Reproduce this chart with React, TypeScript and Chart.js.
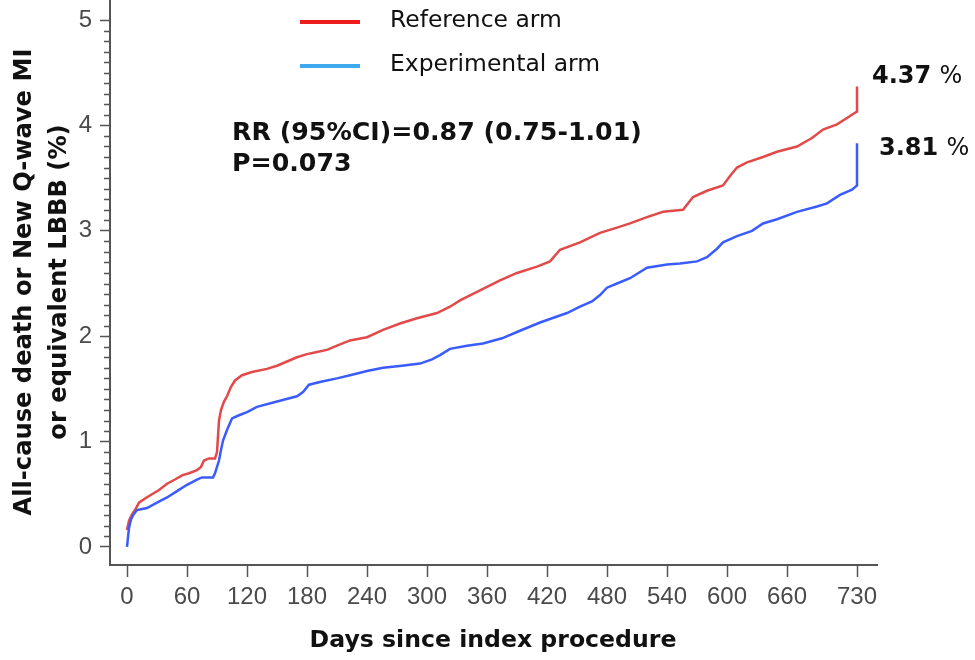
import React, { useEffect, useRef } from "react";
import { Chart, registerables } from "chart.js";

Chart.register(...registerables);

// ---------- data ----------
const refDays = [0, 2, 5, 8, 12, 18, 25, 32, 40, 48, 55, 62, 70, 74, 77, 82, 88, 90, 91, 92, 94, 97, 100, 104, 108, 115, 125, 140, 150, 160, 170, 180, 190, 200, 210, 223, 240, 256, 273, 290, 310, 323, 333, 350, 373, 390, 410, 423, 433, 453, 473, 490, 503, 520, 536, 556, 566, 580, 596, 603, 610, 620, 636, 650, 670, 685, 696, 710, 720, 728, 730, 730];
const refValues = [0.16, 0.25, 0.31, 0.35, 0.42, 0.46, 0.5, 0.54, 0.6, 0.64, 0.68, 0.7, 0.73, 0.76, 0.82, 0.84, 0.84, 0.9, 1.05, 1.2, 1.3, 1.38, 1.43, 1.52, 1.58, 1.63, 1.66, 1.69, 1.72, 1.76, 1.8, 1.83, 1.85, 1.87, 1.91, 1.96, 1.99, 2.06, 2.12, 2.17, 2.22, 2.28, 2.34, 2.42, 2.53, 2.6, 2.66, 2.71, 2.82, 2.89, 2.98, 3.03, 3.07, 3.13, 3.18, 3.2, 3.32, 3.38, 3.43, 3.52, 3.6, 3.65, 3.7, 3.75, 3.8, 3.88, 3.96, 4.01, 4.07, 4.12, 4.13, 4.37];

const expDays = [0, 2, 4, 6, 10, 15, 20, 30, 40, 50, 60, 70, 75, 86, 88, 90, 92, 94, 96, 100, 105, 112, 120, 130, 150, 170, 176, 182, 195, 210, 223, 240, 256, 275, 293, 305, 313, 323, 340, 356, 375, 390, 413, 440, 453, 465, 473, 480, 490, 503, 520, 540, 553, 570, 580, 590, 596, 610, 625, 636, 650, 670, 690, 700, 713, 725, 730, 730];
const expValues = [0, 0.18, 0.26, 0.3, 0.35, 0.36, 0.37, 0.42, 0.47, 0.53, 0.59, 0.64, 0.66, 0.66, 0.7, 0.76, 0.82, 0.92, 1.01, 1.11, 1.22, 1.25, 1.28, 1.33, 1.38, 1.43, 1.47, 1.54, 1.57, 1.6, 1.63, 1.67, 1.7, 1.72, 1.74, 1.78, 1.82, 1.88, 1.91, 1.93, 1.98, 2.04, 2.13, 2.22, 2.28, 2.33, 2.39, 2.46, 2.5, 2.55, 2.65, 2.68, 2.69, 2.71, 2.75, 2.83, 2.89, 2.95, 3.0, 3.07, 3.11, 3.18, 3.23, 3.26, 3.34, 3.39, 3.43, 3.83];

const xTicks = [0, 60, 120, 180, 240, 300, 360, 420, 480, 540, 600, 660, 730];
const yTicks = [0, 1, 2, 3, 4, 5];
const seriesNames = ["Reference arm", "Experimental arm"];
const statLines = ["RR (95%CI)=0.87 (0.75-1.01)", "P=0.073"];
const endLabels = ["4.37", "3.81"];
const xTitle = "Days since index procedure";
const yTitleLines = ["All-cause death or New Q-wave MI", "or equivalent LBBB (%)"];

const AXIS = "#555555";
const TXT = "#111111";
const FAM = "'DejaVu Sans', Verdana, sans-serif";

function fitSize(ctx: CanvasRenderingContext2D, text: string, weight: string, width: number) {
  ctx.font = `${weight} 100px ${FAM}`;
  const w = ctx.measureText(text).width;
  return (100 * width) / w;
}

const annotations = {
  id: "annotations",
  afterDraw(chart: any) {
    const ctx: CanvasRenderingContext2D = chart.ctx;
    const ys = chart.scales.y;
    ctx.save();
    // minor y ticks
    ctx.strokeStyle = AXIS;
    ctx.lineWidth = 1.5;
    for (let i = 0; i <= 50; i++) {
      if (i % 10 === 0) continue;
      const py = Math.round(ys.getPixelForValue(i / 10)) + 0.5;
      ctx.beginPath();
      ctx.moveTo(chart.chartArea.left - 6, py);
      ctx.lineTo(chart.chartArea.left, py);
      ctx.stroke();
    }

    ctx.fillStyle = TXT;
    ctx.textBaseline = "middle";
    ctx.textAlign = "left";

    // legend
    const legendColors = ["#ee1c1c", "#3fa9f0"];
    const legendY = [21, 65];
    const lsz = fitSize(ctx, seriesNames[0], "normal", 172);
    seriesNames.forEach((n, i) => {
      ctx.strokeStyle = legendColors[i];
      ctx.lineWidth = 4;
      ctx.beginPath();
      ctx.moveTo(300, legendY[i] + 1);
      ctx.lineTo(360, legendY[i] + 1);
      ctx.stroke();
      ctx.font = `normal ${lsz}px ${FAM}`;
      ctx.fillText(n, 390, legendY[i]);
    });

    // stats
    const ssz = fitSize(ctx, statLines[0], "bold", 410);
    ctx.font = `bold ${ssz}px ${FAM}`;
    ctx.fillText(statLines[0], 232, 133);
    ctx.fillText(statLines[1], 232, 164);

    // end labels
    const endPos = [
      [872, 77],
      [879, 149],
    ];
    endLabels.forEach((t, i) => {
      const sz = 24;
      ctx.font = `bold ${sz}px ${FAM}`;
      ctx.fillText(t, endPos[i][0], endPos[i][1]);
      const w = ctx.measureText(t + " ").width;
      ctx.font = `normal ${sz}px ${FAM}`;
      ctx.fillText("%", endPos[i][0] + w, endPos[i][1]);
    });

    // x title
    const xsz = fitSize(ctx, xTitle, "bold", 367);
    ctx.font = `bold ${xsz}px ${FAM}`;
    ctx.textAlign = "center";
    ctx.fillText(xTitle, 493, 641);

    // y title
    const ysz = fitSize(ctx, yTitleLines[0], "bold", 467);
    ctx.font = `bold ${ysz}px ${FAM}`;
    [25, 60].forEach((cx, i) => {
      ctx.save();
      ctx.translate(cx, 282);
      ctx.rotate(-Math.PI / 2);
      ctx.fillText(yTitleLines[i], 0, 0);
      ctx.restore();
    });
    ctx.restore();
  },
};

export default function App() {
  const ref = useRef<HTMLCanvasElement | null>(null);
  useEffect(() => {
    if (!ref.current) return;
    const toPts = (xs: number[], vs: number[]) => xs.map((x, i) => ({ x, y: vs[i] }));
    const chart = new Chart(ref.current, {
      type: "line",
      data: {
        datasets: [
          {
            label: seriesNames[1],
            data: toPts(expDays, expValues),
            borderColor: "#3a5cff",
            borderWidth: 2.5,
            pointRadius: 0,
            tension: 0,
            fill: false,
          },
          {
            label: seriesNames[0],
            data: toPts(refDays, refValues),
            borderColor: "#e24a4a",
            borderWidth: 2.5,
            pointRadius: 0,
            tension: 0,
            fill: false,
          },
        ],
      },
      options: {
        animation: false,
        responsive: false,
        layout: { padding: { top: 0, right: 98, left: 0, bottom: 0 } },
        plugins: { legend: { display: false }, tooltip: { enabled: false } },
        scales: {
          x: {
            type: "linear",
            min: -17,
            max: 750,
            afterBuildTicks: (s: any) => {
              s.ticks = xTicks.map((v) => ({ value: v }));
            },
            afterFit: (s: any) => {
              s.height = 95;
              s.paddingLeft = 0;
              s.paddingRight = 0;
            },
            border: { display: true, color: AXIS, width: 2 },
            grid: { drawOnChartArea: false, drawTicks: true, tickLength: 12, tickColor: AXIS, tickWidth: 1.5 },
            ticks: {
              autoSkip: false,
              maxRotation: 0,
              padding: 6,
              color: "#4a4a4a",
              font: { family: "'Liberation Sans', Arial, sans-serif", size: 24 },
              callback: (v: any) => String(v),
            },
          },
          y: {
            type: "linear",
            min: -0.171,
            max: 5.19,
            afterBuildTicks: (s: any) => {
              s.ticks = yTicks.map((v) => ({ value: v }));
            },
            afterFit: (s: any) => {
              s.width = 110;
              s.paddingTop = 0;
              s.paddingBottom = 0;
            },
            border: { display: true, color: AXIS, width: 2 },
            grid: { drawOnChartArea: false, drawTicks: true, tickLength: 10, tickColor: AXIS, tickWidth: 1.5 },
            ticks: {
              padding: 8,
              color: "#4a4a4a",
              font: { family: "'Liberation Sans', Arial, sans-serif", size: 24 },
              callback: (v: any) => String(v),
            },
          },
        },
      },
      plugins: [annotations],
    });
    return () => chart.destroy();
  }, []);
  return (
    <div style={{ position: "absolute", left: 0, top: 0, width: 975, height: 660, background: "#fff" }}>
      <canvas ref={ref} width={975} height={660} style={{ width: 975, height: 660, display: "block" }} />
    </div>
  );
}
